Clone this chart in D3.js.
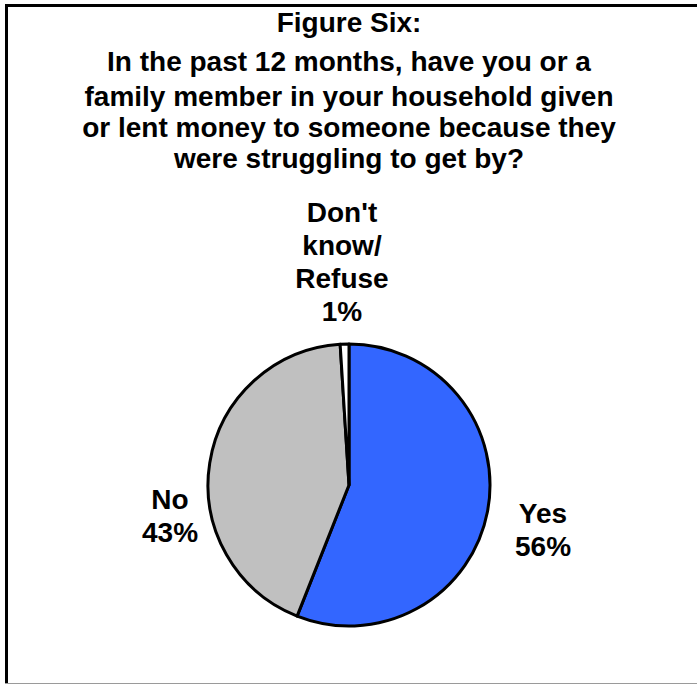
<!DOCTYPE html>
<html>
<head>
<meta charset="utf-8">
<script src="https://cdn.jsdelivr.net/npm/d3@7"></script>
<style>
  html, body { margin: 0; padding: 0; background: #fff; }
  svg { display: block; font-family: "Liberation Sans", Arial, sans-serif; font-weight: bold; }
</style>
</head>
<body>
<svg id="chart"></svg>
<script>
const categories = ["Yes", "No", "Don't know/ Refuse"];
const values = [56, 43, 1];
const labelLines = [["Yes", "56%"], ["No", "43%"], ["Don't", "know/", "Refuse", "1%"]];
const colors = ["#3366FF", "#C0C0C0", "#FFFFFF"];
const titleLines = [
  "Figure Six:",
  "In the past 12 months, have you or a",
  "family member in your household given",
  "or lent money to someone because they",
  "were struggling to get by?"
];

const chartSettings = {
  width: 697,
  height: 685,
  cx: 349,
  cy: 485,
  radius: 141,
  fontSize: 28,
  lineGap: 33
};

const svg = d3.select("#chart")
  .attr("width", chartSettings.width)
  .attr("height", chartSettings.height);

// outer frame: left and top run off the picture, bottom shows as a thin grey edge
svg.append("path")
  .attr("d", "M6.5,684 V5.5 H705")
  .attr("fill", "none")
  .attr("stroke", "#000")
  .attr("stroke-width", 3);

svg.append("line")
  .attr("x1", 5).attr("x2", 697)
  .attr("y1", 683.5).attr("y2", 683.5)
  .attr("stroke", "#9a9a9a")
  .attr("stroke-width", 1);

// title
const titleBaselines = [32, 71, 106, 137, 168];
svg.append("g")
  .selectAll("text")
  .data(titleLines)
  .join("text")
  .attr("x", chartSettings.cx)
  .attr("y", (d, i) => titleBaselines[i])
  .attr("text-anchor", "middle")
  .attr("font-size", chartSettings.fontSize)
  .attr("fill", "#000")
  .text(d => d);

const data = categories.map((name, i) => ({ name, value: values[i], color: colors[i], lines: labelLines[i] }));

const pie = d3.pie()
  .value(d => d.value)
  .sort(null);

const arc = d3.arc()
  .innerRadius(0)
  .outerRadius(chartSettings.radius);

const pieGroup = svg.append("g")
  .attr("transform", `translate(${chartSettings.cx},${chartSettings.cy})`);

const arcs = pie(data);

pieGroup.selectAll("path")
  .data(arcs)
  .join("path")
  .attr("d", arc)
  .attr("fill", d => d.data.color)
  .attr("stroke", "#000")
  .attr("stroke-width", 3)
  .attr("stroke-linejoin", "round");

// label block centres, relative to the pie centre
const labelPos = [[194, 44], [-179, 30], [-7, -224]];
const labelGroups = pieGroup.selectAll("g.label")
  .data(arcs)
  .join("g")
  .attr("class", "label")
  .attr("transform", (d, i) => `translate(${labelPos[i][0]},${labelPos[i][1]})`);

labelGroups.selectAll("text")
  .data(d => d.data.lines.map((t, j, arr) => ({ t, j, n: arr.length })))
  .join("text")
  .attr("text-anchor", "middle")
  .attr("font-size", chartSettings.fontSize)
  .attr("x", 0)
  .attr("y", d => (d.j - (d.n - 1) / 2) * chartSettings.lineGap + 10)
  .text(d => d.t);
</script>
</body>
</html>
